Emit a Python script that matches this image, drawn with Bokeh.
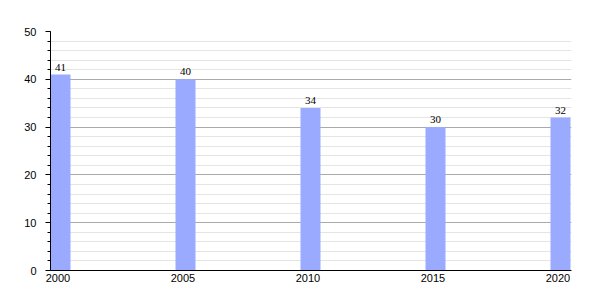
from bokeh.plotting import figure
from bokeh.models import FixedTicker, ColumnDataSource, Range1d, LabelSet
from bokeh.embed import file_html
from bokeh.resources import INLINE

years = [2000, 2005, 2010, 2015, 2020]
values = [41, 40, 34, 30, 32]
labels = [str(v) for v in values]

bar_w = 0.8
src = ColumnDataSource(dict(x=[y + bar_w / 2 for y in years], top=values, lab=labels))

p = figure(width=600, height=300, output_backend="svg", toolbar_location=None,
           x_range=Range1d(2000, 2020.84), y_range=Range1d(0, 50),
           min_border_left=50, min_border_right=29, min_border_top=31, min_border_bottom=30)
p.outline_line_color = None

p.vbar(x="x", top="top", width=bar_w, source=src, fill_color="#99aaff", line_color=None)

lab = LabelSet(x="x", y="top", text="lab", source=src, text_align="center",
               text_baseline="bottom", y_offset=4, text_font="Liberation Sans",
               text_font_size="11px", text_color="black")
p.add_layout(lab)

# y axis
p.yaxis.ticker = FixedTicker(ticks=[0, 10, 20, 30, 40, 50], minor_ticks=list(range(0, 51, 2)))
p.yaxis.major_tick_out = 5
p.yaxis.major_tick_in = 0
p.yaxis.minor_tick_out = 3
p.yaxis.minor_tick_in = 0
p.yaxis.axis_line_color = "black"
p.yaxis.major_tick_line_color = "black"
p.yaxis.minor_tick_line_color = "black"
p.yaxis.major_label_text_font = "Liberation Sans"
p.yaxis.major_label_text_font_size = "11px"
p.yaxis.major_label_text_color = "black"
p.yaxis.major_label_standoff = 9

# x axis
p.xaxis.ticker = FixedTicker(ticks=[y + bar_w / 2 - 0.1 for y in years])
p.xaxis.major_label_overrides = {y + bar_w / 2 - 0.1: str(y) for y in years}
p.xaxis.major_tick_out = 0
p.xaxis.major_tick_in = 0
p.xaxis.minor_tick_out = 0
p.xaxis.minor_tick_in = 0
p.xaxis.axis_line_color = "black"
p.xaxis.major_label_text_font = "Liberation Sans"
p.xaxis.major_label_text_font_size = "11px"
p.xaxis.major_label_text_color = "black"
p.xaxis.major_label_standoff = 3

p.xgrid.grid_line_color = None
p.ygrid.ticker = FixedTicker(ticks=[10, 20, 30, 40, 50], minor_ticks=[v for v in range(2, 50, 2) if v % 10])
p.ygrid.grid_line_color = "#aaaaaa"
p.ygrid.minor_grid_line_color = "#e4e4e4"
p.ygrid.level = "underlay"

open("out.html", "w").write(file_html(p, INLINE))
